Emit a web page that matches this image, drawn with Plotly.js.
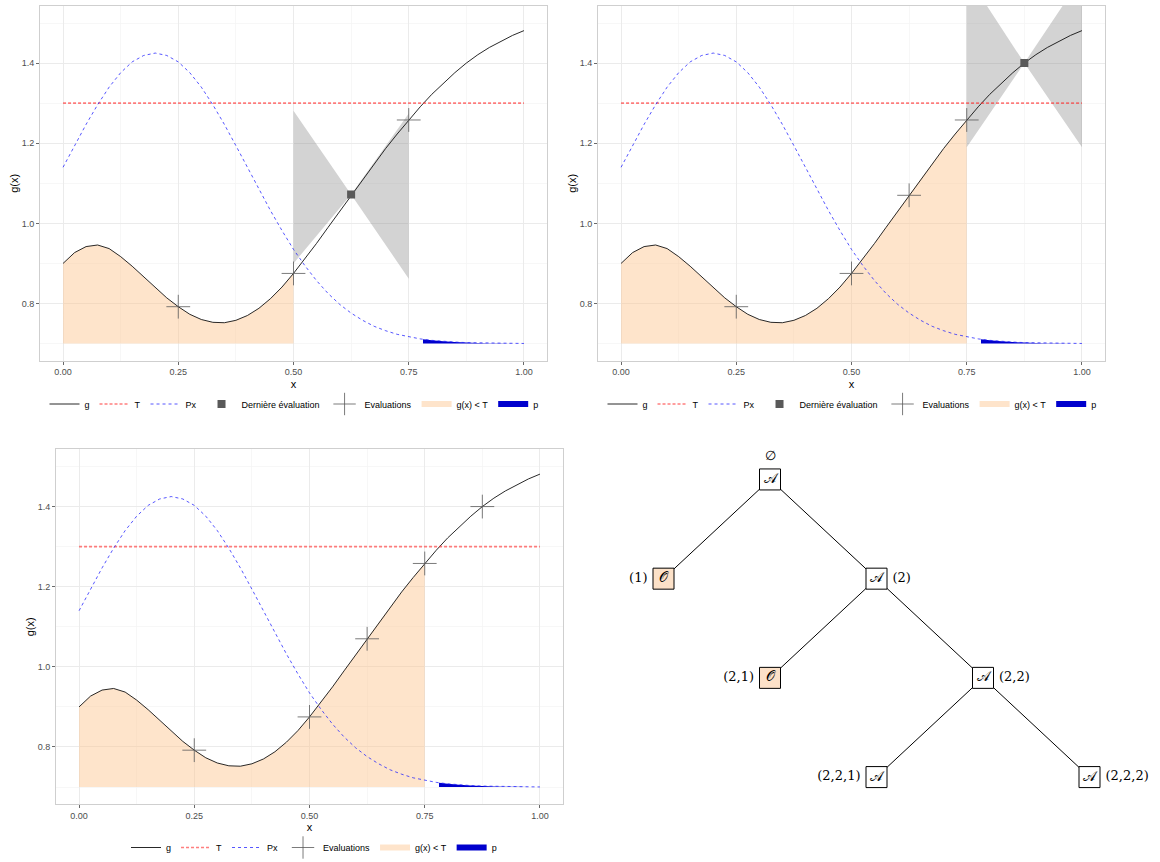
<!DOCTYPE html>
<html>
<head>
<meta charset="utf-8">
<script src="https://cdn.plot.ly/plotly-3.0.1.min.js"></script>
<style>html,body{margin:0;padding:0;background:#fff;}#chart{width:1160px;height:862px;}</style>
</head>
<body>
<div id="chart"></div>
<script>
// ---------- data ----------
const xGrid = [0,0.025,0.05,0.075,0.1,0.125,0.15,0.175,0.2,0.225,0.25,0.275,0.3,0.325,0.35,0.375,0.4,0.425,0.45,0.475,0.5,0.525,0.55,0.575,0.6,0.625,0.65,0.675,0.7,0.725,0.75,0.775,0.8,0.825,0.85,0.875,0.9,0.925,0.95,0.975,1.0];
const gValues = [0.900,0.927,0.942,0.946,0.937,0.917,0.893,0.866,0.840,0.814,0.792,0.773,0.760,0.753,0.752,0.758,0.770,0.788,0.812,0.841,0.875,0.912,0.950,0.990,1.030,1.070,1.110,1.149,1.187,1.223,1.258,1.291,1.322,1.350,1.376,1.400,1.421,1.439,1.455,1.469,1.481];
const pxValues = [1.140,1.194,1.247,1.296,1.340,1.376,1.403,1.419,1.425,1.419,1.403,1.376,1.340,1.296,1.247,1.194,1.140,1.085,1.032,0.982,0.935,0.894,0.857,0.825,0.798,0.776,0.758,0.743,0.732,0.723,0.7165,0.7116,0.708,0.7055,0.7037,0.7024,0.7016,0.701,0.7006,0.7004,0.7002];
const thresholdT = 1.3;
const baseLevel = 0.7;
const pAreaX = [0.781,0.8,0.825,0.85,0.875,0.9,0.925,0.95,0.975,1.0];
const pAreaY = [0.7108,0.708,0.7055,0.7037,0.7024,0.7016,0.701,0.7006,0.7004,0.7002];

// panel-specific values
const evalX1 = [0.25,0.5,0.75],           evalY1 = [0.792,0.875,1.258];
const lastX1 = [0.625],                   lastY1 = [1.072];
const bandX1 = [0.5,0.625,0.75,0.75,0.625,0.5], bandY1 = [1.281,1.072,0.862,1.274,1.072,0.900];
const fillLimit1 = 0.5;

const evalX2 = [0.25,0.5,0.625,0.75],     evalY2 = [0.792,0.875,1.070,1.258];
const lastX2 = [0.875],                   lastY2 = [1.400];
const bandX2 = [0.75,0.875,1.0,1.0,0.875,0.75], bandY2 = [1.62,1.40,1.19,1.615,1.40,1.19];
const fillLimit2 = 0.75;

const evalX3 = [0.25,0.5,0.625,0.75,0.875], evalY3 = [0.792,0.875,1.070,1.258,1.400];
const fillLimit3 = 0.75;

const legendNames = ['g','T','Px','Dernière évaluation','Evaluations','g(x) < T','p'];

// tree
const treeLabels = ['∅','(1)','(2)','(2,1)','(2,2)','(2,2,1)','(2,2,2)'];
const treeDepth  = [0,1,1,2,2,3,3];
const treePos    = [0,-1,1,0,2,1,3];
const treeParent = [-1,0,0,2,2,4,4];
const treeNode   = ['𝒜','𝒪','𝒜','𝒪','𝒜','𝒜','𝒜'];

// ---------- styles ----------
const FONT = 'Liberation Sans, Arial, sans-serif';
const cOrange = 'rgba(252,196,140,0.45)';
const cBand = 'rgba(128,128,128,0.35)';
const cP = '#0000CD';
const cCross = 'rgba(90,90,90,0.8)';

function panelTraces(k, o){
  const xa = k===1?'x':'x'+k, ya = k===1?'y':'y'+k, lg = k===1?'legend':'legend'+k;
  const tr = [];
  const fx = xGrid.filter(v=>v<=o.limit+1e-9);
  const fy = gValues.slice(0,fx.length);
  tr.push({x:[fx[0],fx[fx.length-1]], y:[baseLevel,baseLevel], xaxis:xa, yaxis:ya, mode:'lines', line:{width:0,color:'rgba(0,0,0,0)'}, showlegend:false, hoverinfo:'skip'});
  tr.push({x:fx, y:fy, xaxis:xa, yaxis:ya, mode:'none', fill:'tonexty', fillcolor:cOrange, name:legendNames[5], legend:lg, legendrank:6});
  tr.push({x:[pAreaX[0],pAreaX[pAreaX.length-1]], y:[baseLevel,baseLevel], xaxis:xa, yaxis:ya, mode:'lines', line:{width:0,color:'rgba(0,0,0,0)'}, showlegend:false, hoverinfo:'skip'});
  tr.push({x:pAreaX, y:pAreaY, xaxis:xa, yaxis:ya, mode:'none', fill:'tonexty', fillcolor:cP, name:legendNames[6], legend:lg, legendrank:7});
  if(o.bandX){
    tr.push({x:o.bandX, y:o.bandY, xaxis:xa, yaxis:ya, mode:'none', fill:'toself', fillcolor:cBand, showlegend:false, hoverinfo:'skip'});
  }
  tr.push({x:xGrid, y:gValues, xaxis:xa, yaxis:ya, mode:'lines', line:{color:'#111',width:0.9}, name:legendNames[0], legend:lg, legendrank:1});
  tr.push({x:[0,1], y:[thresholdT,thresholdT], xaxis:xa, yaxis:ya, mode:'lines', line:{color:'rgba(255,40,40,0.6)',width:1.6,dash:'3px,2px'}, name:legendNames[1], legend:lg, legendrank:2});
  tr.push({x:xGrid, y:pxValues, xaxis:xa, yaxis:ya, mode:'lines', line:{color:'rgba(30,30,255,0.75)',width:1,dash:'3px,3px'}, name:legendNames[2], legend:lg, legendrank:3});
  if(o.lastX){
    tr.push({x:o.lastX, y:o.lastY, xaxis:xa, yaxis:ya, mode:'markers', marker:{symbol:'square',size:8,color:'#595959'}, name:legendNames[3], legend:lg, legendrank:4});
  }
  tr.push({x:o.evalX, y:o.evalY, xaxis:xa, yaxis:ya, mode:'markers', marker:{symbol:'cross-thin-open',size:17,color:cCross,line:{color:cCross,width:1}}, name:legendNames[4], legend:lg, legendrank:5});
  return tr;
}

let data = [];
data = data.concat(panelTraces(1,{limit:fillLimit1,bandX:bandX1,bandY:bandY1,lastX:lastX1,lastY:lastY1,evalX:evalX1,evalY:evalY1}));
data = data.concat(panelTraces(2,{limit:fillLimit2,bandX:bandX2,bandY:bandY2,lastX:lastX2,lastY:lastY2,evalX:evalX2,evalY:evalY2}));
data = data.concat(panelTraces(3,{limit:fillLimit3,evalX:evalX3,evalY:evalY3}));

// tree edges
const ex=[], ey=[];
treeParent.forEach((p,i)=>{ if(p>=0){ ex.push(treePos[p],treePos[i],null); ey.push(treeDepth[p],treeDepth[i],null);} });
data.push({x:ex, y:ey, xaxis:'x4', yaxis:'y4', mode:'lines', line:{color:'#000',width:1}, showlegend:false, hoverinfo:'skip'});
data.push({x:treePos, y:treeDepth, xaxis:'x4', yaxis:'y4', mode:'markers+text', text:treeNode, textposition:'middle center',
  textfont:{family:'DejaVu Serif, serif', size:14, color:'#000'},
  marker:{symbol:'square', size:21, color:treeNode.map(t=>t==='𝒪'?'#FCE1C8':'#FFFFFF'), line:{color:'#000',width:1}}, showlegend:false, hoverinfo:'skip'});
data.push({x:treePos, y:treeDepth, xaxis:'x4', yaxis:'y4', mode:'markers+text', text:treeLabels,
  textposition:treeLabels.map((t,i)=> i===0?'top center':(treePos[i]<treePos[treeParent[i]]?'middle left':'middle right')),
  textfont:{family:'DejaVu Serif, serif', size:13, color:'#000'},
  marker:{size:24, opacity:0, color:'#fff'}, showlegend:false, hoverinfo:'skip'});

// ---------- layout ----------
const W=1160, H=862;
const px = (a,b)=>[a/W,b/W];
const py = (top,bot)=>[1-bot/H,1-top/H];
function xAx(dom){
  return {domain:dom, range:[-0.05,1.05], tick0:0, dtick:0.25, tickformat:'.2f', showgrid:true, gridcolor:'#EBEBEB', gridwidth:1,
    minor:{dtick:0.125, tick0:0, showgrid:true, gridcolor:'#F4F4F4', gridwidth:0.7},
    showline:true, mirror:true, linecolor:'#CFCFCF', linewidth:1, ticks:'outside', ticklen:3, tickcolor:'#444', tickwidth:0.8,
    tickfont:{family:FONT,size:9,color:'#4D4D4D'}, zeroline:false,
    title:{text:'x', font:{family:FONT,size:11,color:'#000'}, standoff:3}};
}
function yAx(dom, anchor){
  return {domain:dom, anchor:anchor, range:[0.6575,1.5425], tick0:0, dtick:0.2, tickformat:'.1f', showgrid:true, gridcolor:'#EBEBEB', gridwidth:1,
    minor:{dtick:0.1, tick0:0, showgrid:true, gridcolor:'#F4F4F4', gridwidth:0.7},
    showline:true, mirror:true, linecolor:'#CFCFCF', linewidth:1, ticks:'outside', ticklen:3, tickcolor:'#444', tickwidth:0.8,
    tickfont:{family:FONT,size:9,color:'#4D4D4D'}, zeroline:false,
    title:{text:'g(x)', font:{family:FONT,size:11,color:'#000'}, standoff:0}};
}
function leg(x,y){
  return {orientation:'h', x:x, y:y, xanchor:'center', yanchor:'middle', font:{family:FONT,size:9,color:'#000'},
    bgcolor:'rgba(0,0,0,0)', itemwidth:30, traceorder:'normal'};
}
const layout = {
  width:W, height:H, margin:{l:0,r:0,t:0,b:0}, paper_bgcolor:'#fff', plot_bgcolor:'#fff',
  showlegend:true, hovermode:false,
  xaxis:  Object.assign(xAx(px(40,547)),  {anchor:'y'}),
  yaxis:  yAx(py(6,361),'x'),
  xaxis2: Object.assign(xAx(px(598,1105)),{anchor:'y2'}),
  yaxis2: yAx(py(6,361),'x2'),
  xaxis3: Object.assign(xAx(px(56,563)),  {anchor:'y3'}),
  yaxis3: yAx(py(450,805),'x3'),
  xaxis4: {domain:px(580,1160), anchor:'y4', range:[(580-770)/106.5,(1160-770)/106.5], visible:false, fixedrange:true},
  yaxis4: {domain:py(430,862), anchor:'x4', range:[(862-480)/99.33,(430-480)/99.33], visible:false, fixedrange:true},
  legend: leg(294/W, 1-404/H),
  legend2: leg(852/W, 1-404/H),
  legend3: leg(314/W, 1-848/H)
};
Plotly.newPlot('chart', data, layout, {staticPlot:true});
</script>
</body>
</html>
